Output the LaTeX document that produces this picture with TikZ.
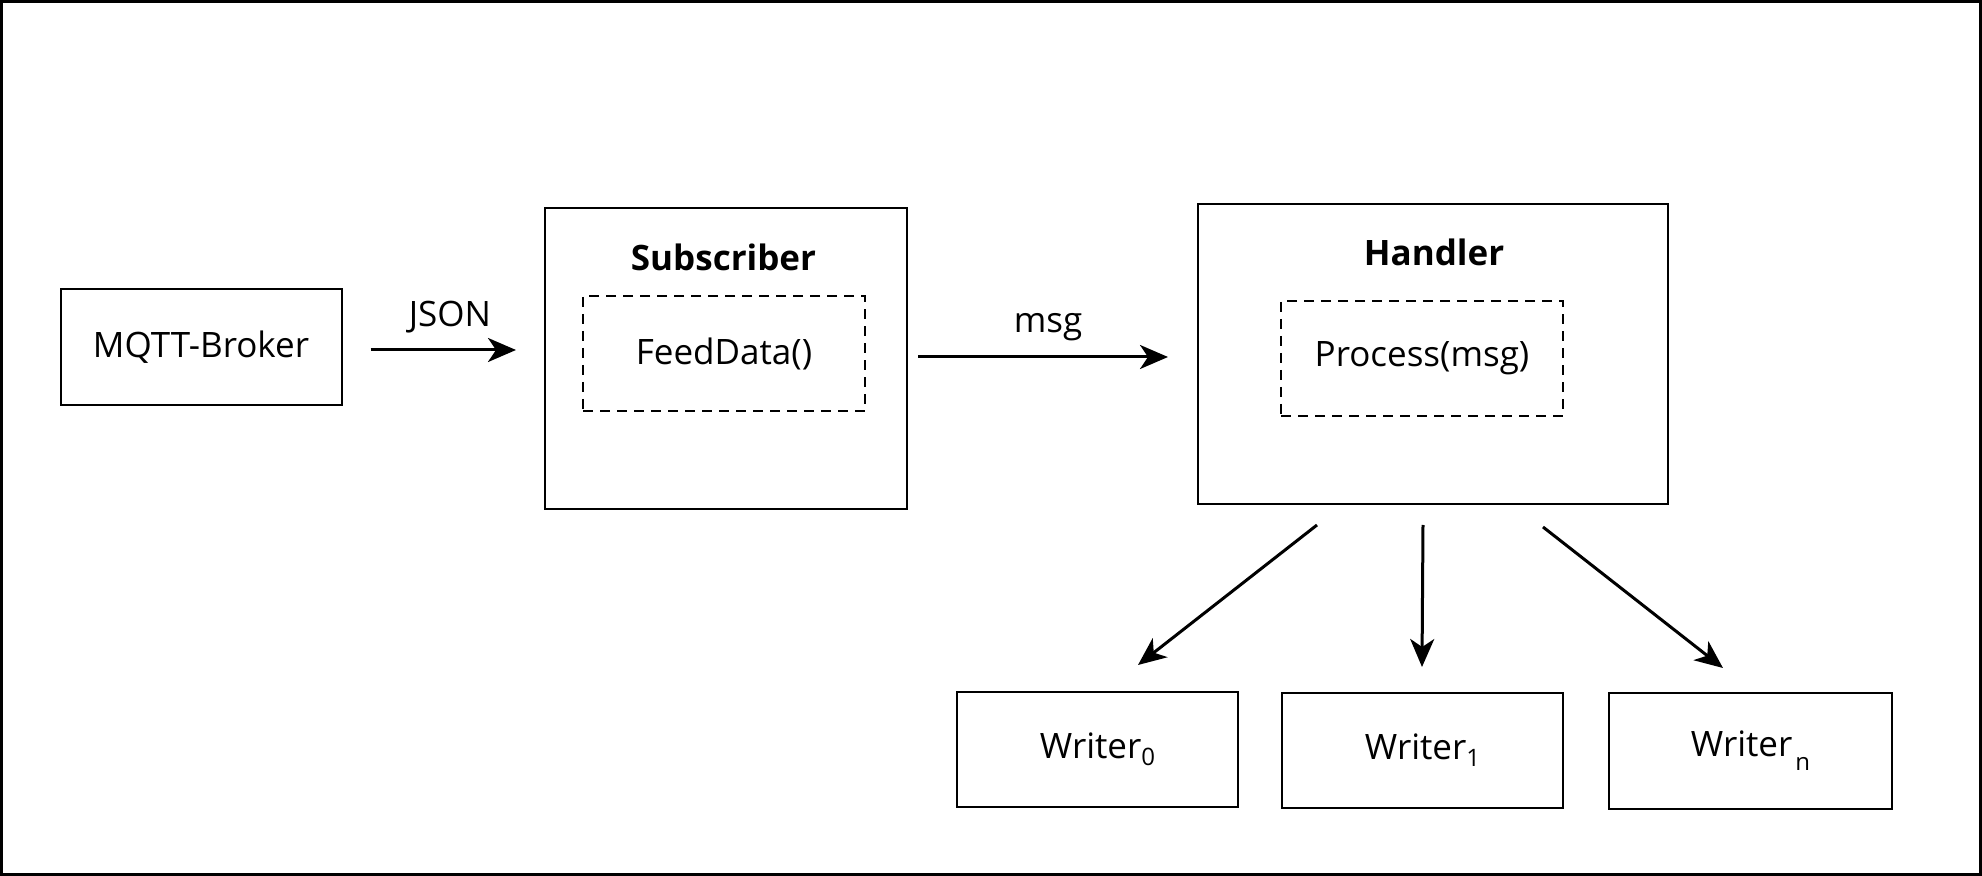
\documentclass[tikz,border=0pt]{standalone}
\usepackage{fontspec}
\setmainfont{Open Sans}
\usetikzlibrary{arrows.meta}
\tikzset{
  box/.style={draw, line width=1pt, inner sep=0pt, font=\fontsize{17.5}{20}\selectfont},
  dbox/.style={draw, line width=0.75pt, dash pattern=on 5pt off 3.5pt, inner sep=0pt, font=\fontsize{17.5}{20}\selectfont},
  lbl/.style={inner sep=0pt, anchor=base, font=\fontsize{17.5}{20}\selectfont},
  ttl/.style={inner sep=0pt, anchor=base, font=\fontsize{17.5}{20}\selectfont\bfseries},
  arr/.style={line width=1.5pt, -{Stealth[length=14pt,width=12pt,inset=4pt]}},
}
\newcommand{\subsc}[1]{\raisebox{-3.5pt}{\fontsize{12}{12}\selectfont #1}}
\begin{document}
\begin{tikzpicture}[x=0.5pt,y=-0.5pt]
\useasboundingbox (0,0) rectangle (1982,876);
\draw[line width=1.5pt] (1.5,1.5) rectangle (1980.5,874.5);

\node[box, minimum width=140.5pt, minimum height=58pt] (mqtt) at (201,347) {MQTT-Broker};
\node[box, minimum width=181pt, minimum height=150.5pt] (sub) at (726,358.5) {};
\node[ttl] (subt) at (723.5,271) {Subscriber};
\node[dbox, minimum width=141pt, minimum height=57.5pt] (feed) at (724,353.5) {FeedData()};
\node[box, minimum width=235pt, minimum height=150pt] (handler) at (1433,354) {};
\node[ttl] (handt) at (1434,266) {Handler};
\node[dbox, minimum width=141pt, minimum height=57.5pt] (proc) at (1422,358.5) {Process(msg)};

\node[box, minimum width=140.5pt, minimum height=57.5pt] (w0) at (1097.5,749.5) {Writer\subsc{0}};
\node[box, minimum width=140.5pt, minimum height=57.5pt] (w1) at (1422.5,750.5) {Writer\subsc{1}};
\node[box, minimum width=141.5pt, minimum height=58pt] (wn) at (1750.5,751) {Writer\hspace{1.5pt}\raisebox{-7pt}{\fontsize{12}{12}\selectfont n}};

\node[lbl] (json) at (450,327) {JSON};
\node[lbl] (msg) at (1048,333) {msg};

\draw[arr, shorten <=14pt, shorten >=14pt] (mqtt.east |- 0,350) -- (sub.west |- 0,350);
\draw[arr, shorten <=5pt, shorten >=14.5pt] (sub.east |- 0,357) -- (handler.west |- 0,357);

\coordinate (s0) at (1317,525);
\coordinate (e0) at (1138,665);
\coordinate (s1) at (1423,525);
\coordinate (e1) at (1422,667);
\coordinate (s2) at (1543,527);
\coordinate (e2) at (1723,668);
\draw[arr] (s0) -- (e0);
\draw[arr] (s1) -- (e1);
\draw[arr] (s2) -- (e2);
\end{tikzpicture}
\end{document}
